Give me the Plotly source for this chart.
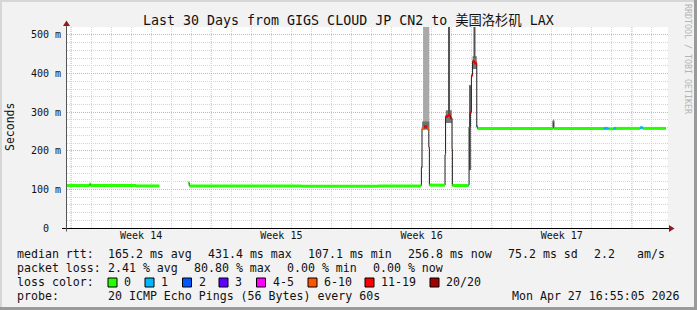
import plotly.graph_objects as go
from datetime import datetime

# ---------------- data ----------------
x_start = "2026-03-28 19:12"
x_end = "2026-04-27 19:12"
y_max = 520.7

# median rtt steps (time, ms, loss class of the step that starts here)
med_t = [
    "2026-03-28 19:12", "2026-03-29 22:20", "2026-03-29 23:30", "2026-04-01 06:00",
    "2026-04-02 09:48", "2026-04-02 09:50", "2026-04-03 20:33", "2026-04-03 21:40",
    "2026-04-09 12:00", "2026-04-13 08:00", "2026-04-15 11:00", "2026-04-15 11:45",
    "2026-04-15 12:30", "2026-04-15 15:30", "2026-04-15 18:30", "2026-04-15 20:40",
    "2026-04-15 21:20", "2026-04-16 16:05", "2026-04-16 16:45", "2026-04-16 19:30",
    "2026-04-16 22:30", "2026-04-17 00:30", "2026-04-17 00:52", "2026-04-17 20:20",
    "2026-04-17 20:53", "2026-04-17 22:10", "2026-04-17 23:40", "2026-04-18 01:05",
    "2026-04-18 03:30", "2026-04-18 06:07", "2026-04-18 07:00", "2026-04-22 01:30",
    "2026-04-22 02:30", "2026-04-24 14:00", "2026-04-24 20:00", "2026-04-25 02:00",
    "2026-04-25 05:00", "2026-04-26 10:00", "2026-04-26 13:00", "2026-04-27 16:36",
]
med_v = [
    110, 114, 110, 109,
    109, None, 117, 109,
    108, 109, 110, 156,
    258, 263, 257, 209,
    111, 190, 289, 292,
    284, 205, 110, 112,
    262, 300, 395, 432,
    427, 262, 258, 278,
    258, 258, 257, 258,
    258, 260, 258, 258,
]
med_loss = [
    "0", "0", "0", "0",
    "0", "0", "0", "0",
    "0", "0", "0", "3",
    "6-10", "11-19", "6-10", "6-10",
    "0", "6-10", "11-19", "11-19",
    "11-19", "6-10", "0", "1",
    "11-19", "11-19", "11-19", "11-19",
    "11-19", "2", "0", "1",
    "0", "1", "0", "1",
    "0", "1", "0", "0",
]

# smoke (spread of the 20 pings) during the spikes
smoke_t0 = ["2026-04-15 13:45", "2026-04-15 12:40", "2026-04-16 17:00", "2026-04-16 20:04",
            "2026-04-17 21:22", "2026-04-18 01:05", "2026-04-18 02:10"]
smoke_t1 = ["2026-04-15 21:15", "2026-04-15 21:15", "2026-04-17 00:10", "2026-04-16 22:06",
            "2026-04-17 23:17", "2026-04-18 06:07", "2026-04-18 04:34"]
smoke_lo = [262, 255, 272, 295, 150, 412, 440]
smoke_hi = [530, 276, 305, 530, 370, 445, 530]
smoke_shade = ["#a9a9a9", "#707070", "#7a7a7a", "#555555", "#666666", "#777777", "#555555"]

loss_names = ["0", "1", "2", "3", "4-5", "6-10", "11-19", "20/20"]
loss_colors = ["#26ff00", "#00b8ff", "#0059ff", "#5e00ff", "#ff00ff", "#ff5500", "#ff0000", "#a10000"]

week_tick_t = ["2026-04-01 12:00", "2026-04-08 12:00", "2026-04-15 12:00", "2026-04-22 12:00"]
week_tick_text = ["Week 14", "Week 15", "Week 16", "Week 17"]
week_line_t = ["2026-03-29", "2026-04-05", "2026-04-12", "2026-04-19", "2026-04-26"]

y_tick_vals = [0, 100, 200, 300, 400, 500]
y_tick_text = ["0\u00a0\u00a0", "100 m", "200 m", "300 m", "400 m", "500 m"]

rtt_vals = [165.2, 431.4, 107.1, 256.8]
rtt_tags = ["avg", "max", "min", "now"]
rtt_sd = 75.2
rtt_ams = 2.2
ploss_vals = [2.41, 80.80, 0.00, 0.00]
ploss_tags = ["avg", "max", "min", "now"]

title = "Last 30 Days from GIGS CLOUD JP CN2 to 美国洛杉矶 LAX"
probe_text = "20 ICMP Echo Pings (56 Bytes) every 60s"
stamp_text = "Mon Apr 27 16:55:05 2026"

# ---------------- layout geometry ----------------
W, H = 697, 310
ML, MR, MT, MB = 67, 29, 27, 82
PW = W - ML - MR
PH = H - MT - MB
MONO = "DejaVu Sans Mono"
BG = "#f2f2f2"


def px(x):
    return (x - ML) / PW


def py(y):
    return (H - MB - y) / PH


def pdt(s):
    return datetime.strptime(s, "%Y-%m-%d %H:%M")


fig = go.Figure()

# smoke bars
cx, wd, base, hgt = [], [], [], []
for a, b, lo, hi in zip(smoke_t0, smoke_t1, smoke_lo, smoke_hi):
    ta, tb = pdt(a), pdt(b)
    cx.append(ta + (tb - ta) / 2)
    wd.append((tb - ta).total_seconds() * 1000)
    base.append(lo)
    hgt.append(hi - lo)
fig.add_trace(go.Bar(x=cx, y=hgt, base=base, width=wd,
                     marker=dict(color=smoke_shade, line=dict(width=0)),
                     showlegend=False, hoverinfo="skip"))

# dark median step line
fig.add_trace(go.Scatter(x=med_t, y=med_v, mode="lines",
                         line=dict(color="#1c1c1c", width=1, shape="hv"),
                         connectgaps=False, showlegend=False, hoverinfo="skip"))

# loss-coloured median segments
for name, col in zip(loss_names, loss_colors):
    xs, ys = [], []
    for i in range(len(med_t) - 1):
        if med_loss[i] == name and med_v[i] is not None and med_v[i + 1] is not None:
            xs += [med_t[i], med_t[i + 1], None]
            ys += [med_v[i], med_v[i], None]
    if xs:
        fig.add_trace(go.Scatter(x=xs, y=ys, mode="lines",
                                 line=dict(color=col, width=3),
                                 showlegend=False, hoverinfo="skip"))

shapes = []
# weekly major grid lines
for t in week_line_t:
    shapes.append(dict(type="line", xref="x", yref="paper", x0=t, x1=t, y0=0, y1=1,
                       line=dict(color="#f0a4a4", width=1, dash="1px,1px"), layer="below"))
# axes
shapes.append(dict(type="line", xref="paper", yref="paper", x0=px(62), x1=px(669),
                   y0=py(228.5), y1=py(228.5), line=dict(color="#000000", width=1)))
shapes.append(dict(type="line", xref="paper", yref="paper", x0=px(66.5), x1=px(66.5),
                   y0=py(231.5), y1=py(22), line=dict(color="#555555", width=1)))
# arrows
shapes.append(dict(type="path", xref="paper", yref="paper",
                   path=f"M {px(63)} {py(26)} L {px(70)} {py(26)} L {px(66.5)} {py(20.5)} Z",
                   fillcolor="#8e1c1c", line=dict(width=0)))
shapes.append(dict(type="path", xref="paper", yref="paper",
                   path=f"M {px(669)} {py(225)} L {px(669)} {py(232)} L {px(674.5)} {py(228.5)} Z",
                   fillcolor="#8e1c1c", line=dict(width=0)))

# frame
shapes.append(dict(type="rect", xref="paper", yref="paper", x0=px(0), x1=px(697), y0=py(0), y1=py(2),
                   fillcolor="#d6d6d6", line=dict(width=0)))
shapes.append(dict(type="rect", xref="paper", yref="paper", x0=px(0), x1=px(2), y0=py(0), y1=py(310),
                   fillcolor="#d6d6d6", line=dict(width=0)))
shapes.append(dict(type="rect", xref="paper", yref="paper", x0=px(694), x1=px(697), y0=py(0), y1=py(310),
                   fillcolor="#9a9a9a", line=dict(width=0)))
shapes.append(dict(type="rect", xref="paper", yref="paper", x0=px(0), x1=px(697), y0=py(307), y1=py(310),
                   fillcolor="#9a9a9a", line=dict(width=0)))

annotations = []


def ann(text, x, y, size=11.6, xanchor="left", color="#111111", angle=0, family=MONO):
    annotations.append(dict(text=text, x=px(x), y=py(y), xref="paper", yref="paper",
                            xanchor=xanchor, yanchor="middle", showarrow=False,
                            textangle=angle, borderpad=0,
                            font=dict(family=family, size=size, color=color)))


ann(title, 348.5, 20, size=13.3, xanchor="center",
    family="DejaVu Sans Mono, Noto Sans CJK SC")
ann("Seconds", 10, 127, size=11.5, xanchor="center", angle=-90)
ann("RRDTOOL / TOBI OETIKER", 688, 59, size=8.3, xanchor="center", angle=90, color="#b4b4b4")

# legend line 1
L1, L2, L3, L4 = 254, 268, 282, 296
ann("median rtt:", 16, L1)
rtt_x = [107, 207, 307, 407]
for v, tag, x in zip(rtt_vals, rtt_tags, rtt_x):
    ann(f"{v:.1f} ms {tag}", x, L1)
ann(f"{rtt_sd:.1f} ms sd", 507, L1)
ann(f"{rtt_ams:.1f}", 593, L1)
ann("am/s", 636, L1)

# legend line 2
ann("packet loss:", 16, L2)
pl_x = [107, 193, 286, 372]
for v, tag, x in zip(ploss_vals, ploss_tags, pl_x):
    ann(f"{v:.2f} % {tag}", x, L2)

# legend line 3
ann("loss color:", 16, L3)
box_x = [108, 145, 182.5, 219, 256.5, 308, 365, 430]
for name, col, bx in zip(loss_names, loss_colors, box_x):
    shapes.append(dict(type="rect", xref="paper", yref="paper",
                       x0=px(bx), x1=px(bx + 9), y0=py(L3 - 4), y1=py(L3 + 5),
                       fillcolor=col, line=dict(color="#000000", width=1)))
    ann(name, bx + 15, L3)

# legend line 4
ann("probe:", 16, L4)
ann(probe_text, 107, L4)
ann(stamp_text, 681, L4, xanchor="right")

fig.update_layout(
    width=W, height=H,
    margin=dict(l=ML, r=MR, t=MT, b=MB, autoexpand=False),
    paper_bgcolor=BG, plot_bgcolor="#ffffff",
    showlegend=False, barmode="overlay",
    shapes=shapes, annotations=annotations,
    xaxis=dict(
        type="date", range=[x_start, x_end],
        tickmode="array", tickvals=week_tick_t, ticktext=week_tick_text,
        showgrid=False, zeroline=False, showline=False, ticks="",
        tickfont=dict(family=MONO, size=10, color="#111111"),
        minor=dict(tickmode="linear", tick0="2026-03-29", dtick=86400000,
                   showgrid=True, gridcolor="#d4d4d4", griddash="1px,1px", gridwidth=1, ticks=""),
        fixedrange=True,
    ),
    yaxis=dict(
        range=[0, y_max],
        tickmode="array", tickvals=y_tick_vals, ticktext=y_tick_text,
        showgrid=True, gridcolor="#f0a4a4", griddash="1px,1px", gridwidth=1,
        zeroline=False, showline=False, ticks="", ticklabelstandoff=5,
        tickfont=dict(family=MONO, size=10, color="#111111"),
        minor=dict(tickmode="linear", tick0=0, dtick=20,
                   showgrid=True, gridcolor="#d4d4d4", griddash="1px,1px", gridwidth=1, ticks=""),
        fixedrange=True,
    ),
)

fig.write_html("out.html")
